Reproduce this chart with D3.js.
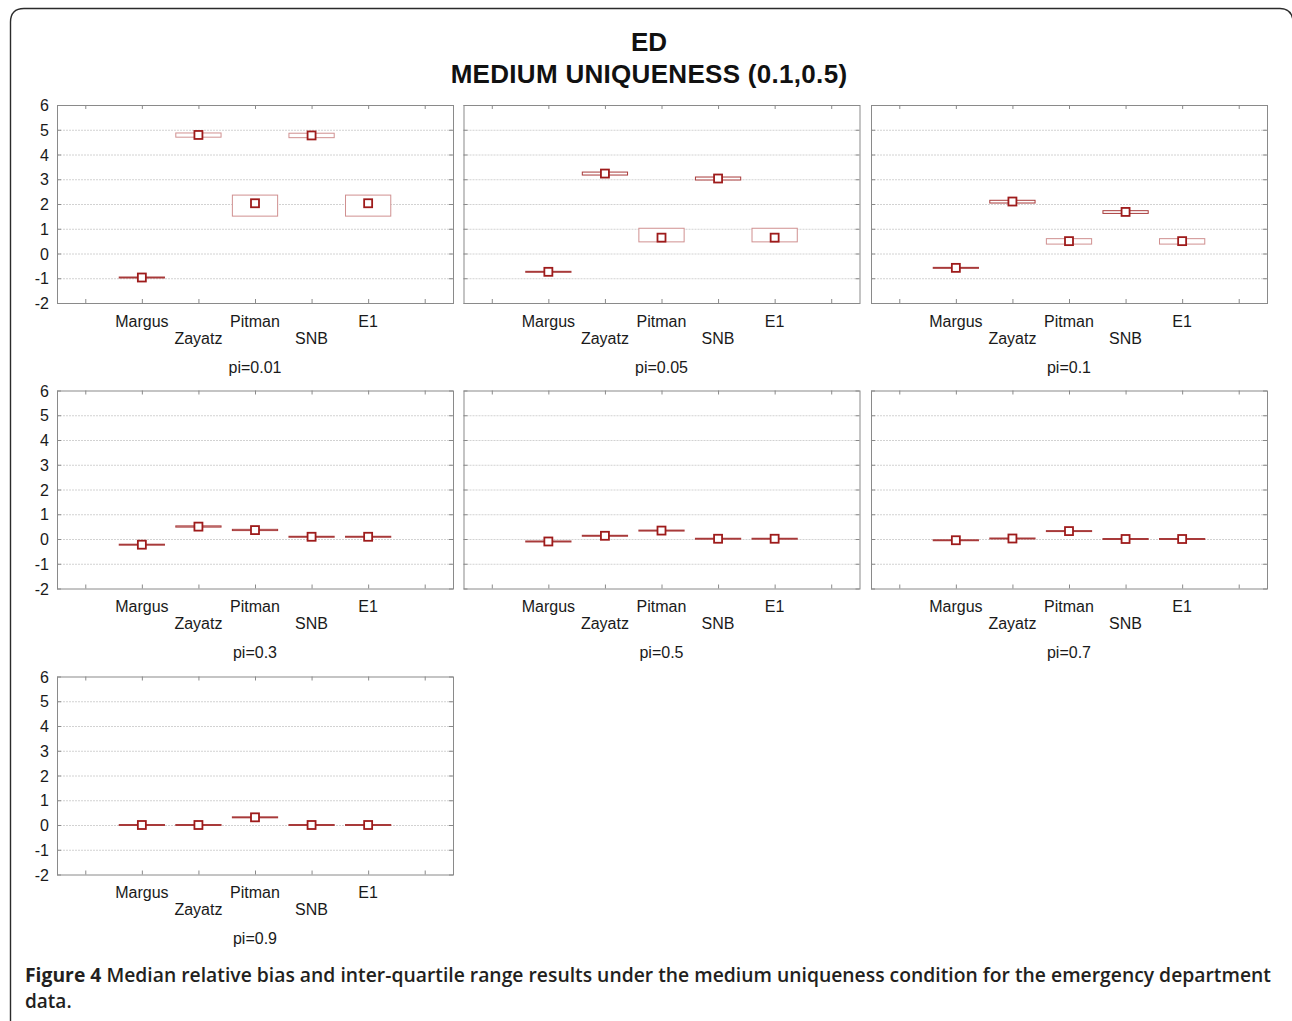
<!DOCTYPE html>
<html>
<head>
<meta charset="utf-8">
<script src="https://cdn.jsdelivr.net/npm/d3@7"></script>
<style>
  html, body { margin: 0; padding: 0; background: #fff; }
  svg { display: block; }
</style>
</head>
<body>
<svg id="chart" width="1292" height="1021"></svg>
<script>
// Estimators compared in each panel
const methods = ["Margus", "Zayatz", "Pitman", "SNB", "E1"];
// Panel conditions (proportion pi)
const panels = ["pi=0.01", "pi=0.05", "pi=0.1", "pi=0.3", "pi=0.5", "pi=0.7", "pi=0.9"];
// Median relative bias per panel, in method order
const medians = [
  [-0.97, 4.79, 2.03, 4.77, 2.03],
  [-0.74, 3.23, 0.64, 3.03, 0.64],
  [-0.58, 2.10, 0.50, 1.68, 0.50],
  [-0.23, 0.50, 0.36, 0.09, 0.09],
  [-0.10, 0.13, 0.34, 0.01, 0.01],
  [-0.05, 0.02, 0.32, 0.00, 0.00],
  [0.00, 0.00, 0.31, 0.00, 0.00]
];
// Lower quartile per panel
const q1 = [
  [-0.99, 4.70, 1.51, 4.68, 1.51],
  [-0.76, 3.17, 0.47, 2.97, 0.47],
  [-0.60, 2.04, 0.38, 1.62, 0.38],
  [-0.25, 0.48, 0.34, 0.07, 0.07],
  [-0.12, 0.11, 0.32, -0.01, -0.01],
  [-0.07, 0.00, 0.30, -0.02, -0.02],
  [-0.02, -0.02, 0.29, -0.02, -0.02]
];
// Upper quartile per panel
const q3 = [
  [-0.95, 4.87, 2.36, 4.86, 2.36],
  [-0.72, 3.29, 1.02, 3.09, 1.02],
  [-0.56, 2.15, 0.60, 1.73, 0.60],
  [-0.21, 0.53, 0.39, 0.11, 0.11],
  [-0.08, 0.15, 0.36, 0.03, 0.03],
  [-0.03, 0.04, 0.34, 0.02, 0.02],
  [0.02, 0.02, 0.33, 0.02, 0.02]
];
const yTicks = [-2, -1, 0, 1, 2, 3, 4, 5, 6];
const titleLines = ["ED", "MEDIUM UNIQUENESS (0.1,0.5)"];
const captionBold = "Figure 4";
const captionLine1 = "Median relative bias and inter-quartile range results under the medium uniqueness condition for the emergency department";
const captionLine2 = "data.";

const svg = d3.select("#chart");
const font = "'Liberation Sans', Arial, sans-serif";

// Outer rounded frame
svg.append("path")
  .attr("d", "M10.5,1021 L10.5,22 Q10.5,8.5 24,8.5 L1280,8.5 Q1291,8.5 1293,20")
  .attr("fill", "none").attr("stroke", "#2b2b2b").attr("stroke-width", 1.4);

// Title
titleLines.forEach((t, i) => {
  svg.append("text")
    .attr("x", 649).attr("y", 51 + i * 32)
    .attr("text-anchor", "middle")
    .attr("font-family", font).attr("font-weight", "bold")
    .attr("font-size", 26).attr("fill", "#111")
    .attr("letter-spacing", i === 1 ? 0.3 : 0)
    .text(t);
});

// Panel geometry
const colX = [57, 463.5, 871];
const rowY = [105, 390.5, 676.5];
const pw = 396, ph = 198;

const x = d3.scaleLinear().domain([0, 7]).range([0, pw]);
const y = d3.scaleLinear().domain([-2, 6]).range([ph, 0]);
const xTickVals = d3.range(0.5, 7, 1);
const slot = x(1) - x(0);
const boxW = slot * 0.8;

panels.forEach((label, p) => {
  const col = p % 3, row = Math.floor(p / 3);
  const g = svg.append("g").attr("transform", `translate(${colX[col]},${rowY[row]})`);

  // horizontal grid
  g.append("g").selectAll("line").data(yTicks.slice(1, -1)).join("line")
    .attr("x1", 0).attr("x2", pw)
    .attr("y1", d => y(d) + 0.5).attr("y2", d => y(d) + 0.5)
    .attr("stroke", "#d2d2d2").attr("stroke-width", 1)
    .attr("stroke-dasharray", "2,1");

  // frame
  g.append("rect").attr("x", 0.5).attr("y", 0.5).attr("width", pw).attr("height", ph)
    .attr("fill", "none").attr("stroke", "#8a8a8a").attr("stroke-width", 1);

  // inner ticks on all sides
  const tl = 4;
  g.append("g").selectAll("line").data(xTickVals).join("line")
    .attr("x1", d => x(d) + 0.5).attr("x2", d => x(d) + 0.5)
    .attr("y1", 0).attr("y2", tl).attr("stroke", "#8a8a8a");
  g.append("g").selectAll("line").data(xTickVals).join("line")
    .attr("x1", d => x(d) + 0.5).attr("x2", d => x(d) + 0.5)
    .attr("y1", ph).attr("y2", ph - tl).attr("stroke", "#8a8a8a");
  g.append("g").selectAll("line").data(yTicks).join("line")
    .attr("x1", 0).attr("x2", tl)
    .attr("y1", d => y(d) + 0.5).attr("y2", d => y(d) + 0.5).attr("stroke", "#8a8a8a");
  g.append("g").selectAll("line").data(yTicks).join("line")
    .attr("x1", pw).attr("x2", pw - tl)
    .attr("y1", d => y(d) + 0.5).attr("y2", d => y(d) + 0.5).attr("stroke", "#8a8a8a");

  // y tick labels only in the first column
  if (col === 0) {
    g.append("g").selectAll("text").data(yTicks).join("text")
      .attr("x", -8).attr("y", d => y(d) + 6)
      .attr("text-anchor", "end")
      .attr("font-family", font).attr("font-size", 16).attr("fill", "#1a1a1a")
      .text(d => d);
  }

  // category labels, staggered on two lines
  g.append("g").selectAll("text").data(methods).join("text")
    .attr("x", (d, i) => x(i + 1.5))
    .attr("y", (d, i) => ph + (i % 2 === 0 ? 23.5 : 40.5))
    .attr("text-anchor", "middle")
    .attr("font-family", font).attr("font-size", 16).attr("fill", "#1a1a1a")
    .text(d => d);

  // panel condition label
  g.append("text")
    .attr("x", pw / 2).attr("y", ph + 69.5)
    .attr("text-anchor", "middle")
    .attr("font-family", font).attr("font-size", 16).attr("fill", "#1a1a1a")
    .text(label);

  // inter-quartile boxes
  const data = methods.map((m, i) => ({ i, med: medians[p][i], lo: q1[p][i], hi: q3[p][i] }));
  g.append("g").selectAll("rect").data(data).join("rect")
    .attr("x", d => x(d.i + 1.5) - boxW / 2)
    .attr("y", d => y(d.hi))
    .attr("width", boxW)
    .attr("height", d => Math.max(0.01, y(d.lo) - y(d.hi)))
    .attr("fill", "#fff")
    .attr("stroke", d => (y(d.lo) - y(d.hi) < 3 ? "#a83a3a" : "#d09090"))
    .attr("stroke-width", 1);

  // median markers
  const s = 8;
  g.append("g").selectAll("rect").data(data).join("rect")
    .attr("x", d => x(d.i + 1.5) - s / 2)
    .attr("y", d => y(d.med) - s / 2)
    .attr("width", s).attr("height", s)
    .attr("fill", "#fff").attr("stroke", "#9e1b1b").attr("stroke-width", 1.8);
});

// Caption
const cap = svg.append("text")
  .attr("x", 25).attr("y", 982)
  .attr("font-family", "'Open Sans', 'Noto Sans', sans-serif")
  .attr("font-size", 19).attr("fill", "#231f20");
cap.append("tspan").attr("font-weight", 700).text(captionBold + " ");
cap.append("tspan").attr("font-weight", 600).text(captionLine1);
// justify the first caption line across the frame width
cap.attr("textLength", 1246).attr("lengthAdjust", "spacingAndGlyphs");

svg.append("text")
  .attr("x", 25).attr("y", 1008)
  .attr("font-family", "'Open Sans', 'Noto Sans', sans-serif")
  .attr("font-size", 19).attr("font-weight", 600).attr("fill", "#231f20")
  .text(captionLine2);
</script>
</body>
</html>
